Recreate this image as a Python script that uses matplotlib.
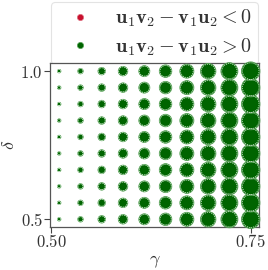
import numpy as np
import matplotlib
matplotlib.use("Agg")
import matplotlib.pyplot as plt
from matplotlib.lines import Line2D

plt.rcParams['mathtext.fontset'] = 'cm'
plt.rcParams['font.family'] = ['DejaVu Serif']

# data
gammas = np.array([0.51, 0.5367, 0.5633, 0.59, 0.6167, 0.6433, 0.67, 0.6967, 0.7233, 0.75])
deltas = np.array([0.5, 0.5556, 0.6111, 0.6667, 0.7222, 0.7778, 0.8333, 0.8889, 0.9444, 1.0])
# marker diameter (px) per gamma column
diam_px = np.array([3.5, 5.5, 7.5, 9.5, 11.0, 12.5, 14.0, 15.5, 17.0, 18.5])
sign_positive = np.ones((10, 10), dtype=bool)  # all cross products > 0

xticks = [0.50, 0.75]
xticklabels = ['$0.50$', '$0.75$']
yticks = [0.5, 1.0]
yticklabels = ['$0.5$', '$1.0$']

fig = plt.figure(figsize=(2.68, 2.70), dpi=100)
ax = fig.add_axes([50 / 268, 43 / 270, 209 / 268, 164 / 270])
ax.set_zorder(1)
ax.patch.set_facecolor('white')

G, D = np.meshgrid(gammas, deltas)
S = (np.tile(diam_px, (len(deltas), 1)) * 0.72) ** 2

green = '#006400'
red = '#c8102e'
pos = sign_positive
ax.scatter(G[pos], D[pos], s=S[pos], c=green, edgecolors='#5aa55a', linewidths=0.6,
           zorder=3, clip_on=False)
ax.scatter(G[pos], D[pos], s=S[pos] * 0.8, facecolors='none', edgecolors='#eef7ee',
           linewidths=0.45, linestyle=(0, (2, 1.5)), zorder=4, clip_on=False)
neg = ~sign_positive
if neg.any():
    ax.scatter(G[neg], D[neg], s=S[neg], c=red, zorder=3)

ax.set_xlim(0.4985, 0.7604)
ax.set_ylim(0.474, 1.0275)
ax.set_xticks(xticks)
ax.set_xticklabels(xticklabels)
ax.set_yticks(yticks)
ax.set_yticklabels(yticklabels)
ax.tick_params(direction='out', length=4, width=0.8, colors='#444444', labelsize=12, pad=1,
               labelcolor='#333333')
for sp in ax.spines.values():
    sp.set_color('#555555')
    sp.set_linewidth(0.9)
ax.set_xlabel(r'$\gamma$', fontsize=13, color='#333333', labelpad=1)
ax.set_ylabel(r'$\delta$', fontsize=13, color='#333333', labelpad=2)

handles = [
    Line2D([], [], marker='o', linestyle='none', markersize=4.5, markerfacecolor=red,
           markeredgecolor='#e07080', markeredgewidth=0.5),
    Line2D([], [], marker='o', linestyle='none', markersize=4.5, markerfacecolor=green,
           markeredgecolor='#5aa55a', markeredgewidth=0.5),
]
labels = [r'$\mathbf{u}_1\mathbf{v}_2-\mathbf{v}_1\mathbf{u}_2<0$',
          r'$\mathbf{u}_1\mathbf{v}_2-\mathbf{v}_1\mathbf{u}_2>0$']
leg = fig.legend(handles, labels, loc='upper right', bbox_to_anchor=(258 / 268, 268 / 270),
                 borderaxespad=0, fontsize=14.5, frameon=True, fancybox=True,
                 handletextpad=0.65, borderpad=0.3, labelspacing=0.35, handlelength=2.2)
leg.set_zorder(0)
leg.get_frame().set_edgecolor('#dddddd')
leg.get_frame().set_linewidth(0.8)
for t in leg.get_texts():
    t.set_color('#333333')

fig.savefig('out.png', dpi=100)
